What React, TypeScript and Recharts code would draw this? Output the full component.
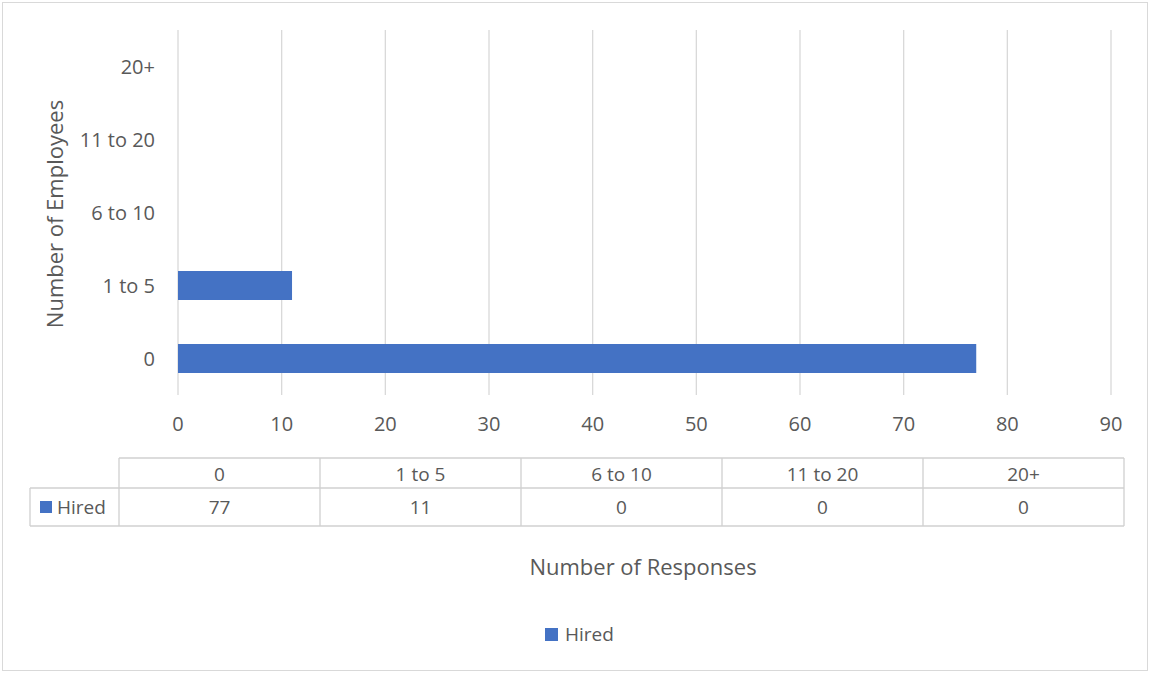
import React from 'react';
import { BarChart, Bar, XAxis, YAxis, CartesianGrid } from 'recharts';

const categories = ['0', '1 to 5', '6 to 10', '11 to 20', '20+'];
const hired = [77, 11, 0, 0, 0];
const xTicks = [0, 10, 20, 30, 40, 50, 60, 70, 80, 90];
const seriesName = 'Hired';
const xTitle = 'Number of Responses';
const yTitle = 'Number of Employees';

const data = categories.map((c, i) => ({ cat: c, hired: hired[i] }));

const FONT = '"Open Sans", "Segoe UI", sans-serif';
const TXT = '#595959';
const GRID = '#d9d9d9';
const BAR = '#4472C4';

const W = 1150;
const H = 673;

export default function App() {
  const tblLeft = 119;
  const colW = 201;
  const rowTop = 458;
  const rowMid = 488;
  const rowBot = 526;
  const legLeft = 30;
  return (
    <div style={{ position: 'relative', width: W, height: H, fontFamily: FONT }}>
      <style>{`body{margin:0;background:#fff}`}</style>
      <BarChart
        width={W}
        height={H}
        data={data}
        layout="vertical"
        margin={{ top: 30, right: 39, bottom: 248, left: 0 }}
      >
        <CartesianGrid horizontal={false} stroke={GRID} strokeWidth={1.3} />
        <XAxis
          type="number"
          domain={[0, 90]}
          ticks={xTicks}
          interval={0}
          axisLine={false}
          tickLine={false}
          tickSize={0}
          tickMargin={22}
          height={30}
          tick={{ fill: TXT, fontSize: 20, fontFamily: FONT }}
        />
        <YAxis
          type="category"
          dataKey="cat"
          reversed
          width={178}
          axisLine={false}
          tickLine={false}
          tickSize={0}
          tickMargin={23}
          tick={{ fill: TXT, fontSize: 20, fontFamily: FONT }}
        />
        <Bar dataKey="hired" name={seriesName} fill={BAR} barSize={29} isAnimationActive={false} />
      </BarChart>
      <svg
        width={W}
        height={H}
        style={{ position: 'absolute', left: 0, top: 0, pointerEvents: 'none' }}
        fontFamily={FONT}
      >
        <rect x={2.5} y={2.5} width={W - 5} height={H - 5} fill="none" stroke="#d9d9d9" strokeWidth={1} />
        <text
          transform={`translate(54, 214) rotate(-90)`}
          textAnchor="middle"
          dominantBaseline="central"
          fontSize={22}
          fill={TXT}
        >
          {yTitle}
        </text>
        {/* data table */}
        <g stroke="#d0d0d0" strokeWidth={1.3} fill="none">
          <line x1={tblLeft} y1={rowTop} x2={tblLeft + colW * categories.length} y2={rowTop} />
          <line x1={legLeft} y1={rowMid} x2={tblLeft + colW * categories.length} y2={rowMid} />
          <line x1={legLeft} y1={rowBot} x2={tblLeft + colW * categories.length} y2={rowBot} />
          <line x1={legLeft} y1={rowMid} x2={legLeft} y2={rowBot} />
          {categories.map((_, i) => (
            <line key={i} x1={tblLeft + colW * i} y1={rowTop} x2={tblLeft + colW * i} y2={rowBot} />
          ))}
          <line
            x1={tblLeft + colW * categories.length}
            y1={rowTop}
            x2={tblLeft + colW * categories.length}
            y2={rowBot}
          />
        </g>
        {categories.map((c, i) => (
          <text
            key={'h' + i}
            x={tblLeft + colW * i + colW / 2}
            y={(rowTop + rowMid) / 2 + 1}
            textAnchor="middle"
            dominantBaseline="central"
            fontSize={19}
            fill={TXT}
          >
            {c}
          </text>
        ))}
        {hired.map((v, i) => (
          <text
            key={'v' + i}
            x={tblLeft + colW * i + colW / 2}
            y={(rowMid + rowBot) / 2}
            textAnchor="middle"
            dominantBaseline="central"
            fontSize={19}
            fill={TXT}
          >
            {v}
          </text>
        ))}
        <rect x={40} y={501} width={12} height={12} fill={BAR} />
        <text x={57} y={507} dominantBaseline="central" fontSize={19} fill={TXT}>
          {seriesName}
        </text>
        <text x={643} y={566} textAnchor="middle" dominantBaseline="central" fontSize={22} fill={TXT}>
          {xTitle}
        </text>
        <rect x={545} y={628} width={13} height={13} fill={BAR} />
        <text x={565} y={634} dominantBaseline="central" fontSize={19} fill={TXT}>
          {seriesName}
        </text>
      </svg>
    </div>
  );
}
